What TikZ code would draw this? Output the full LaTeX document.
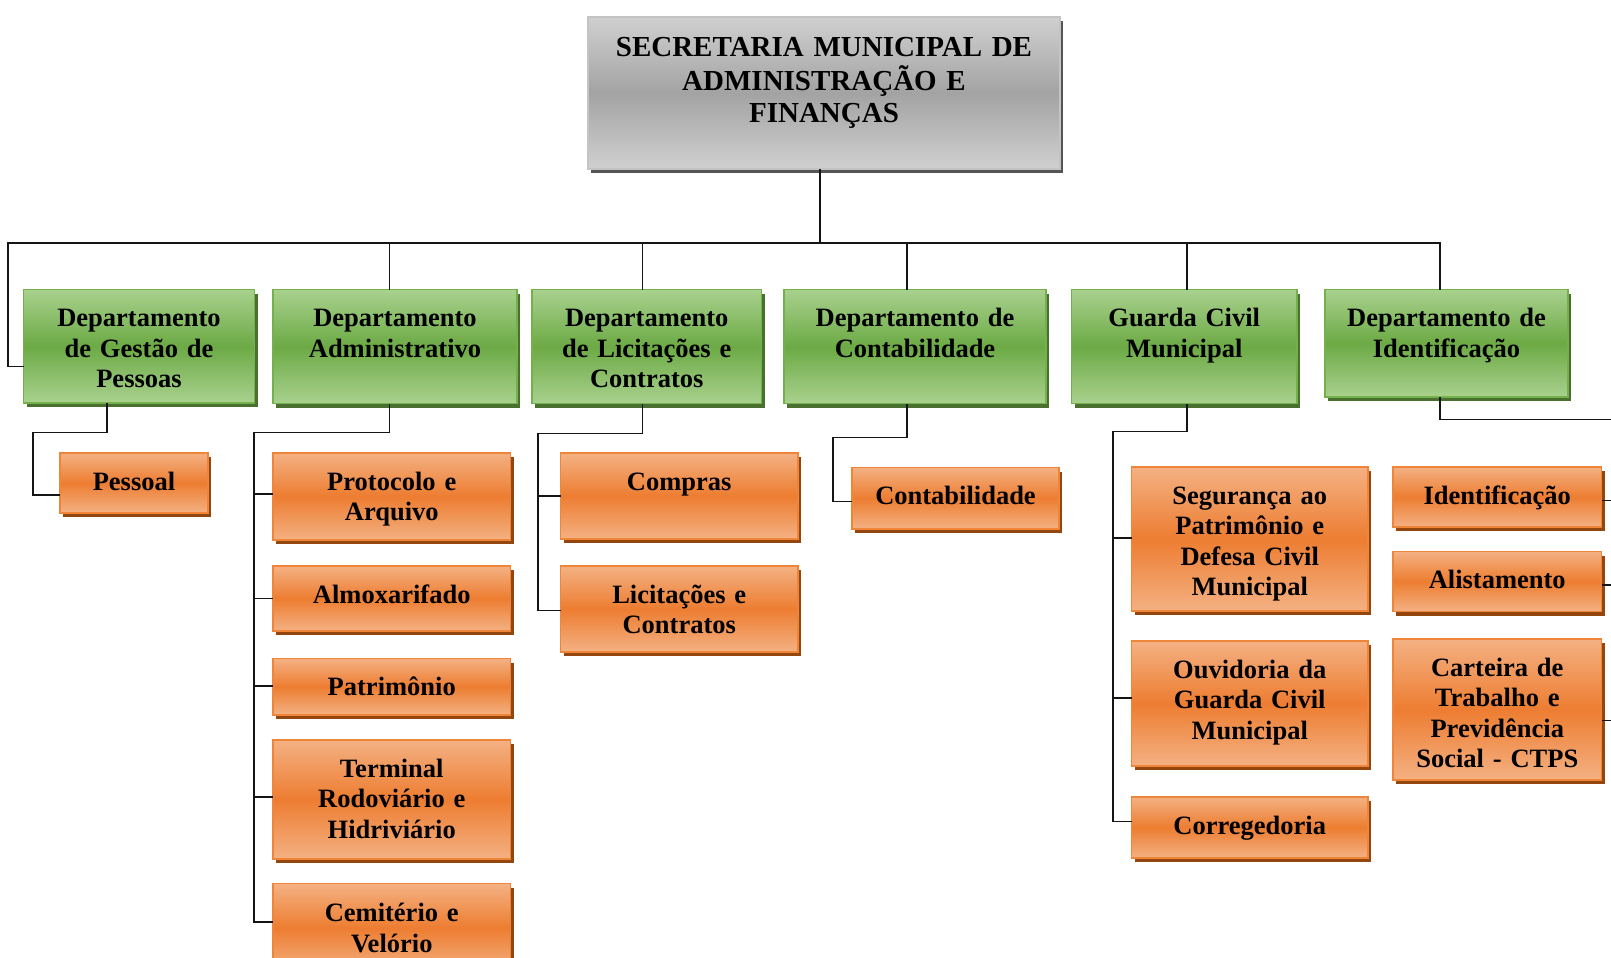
\documentclass[tikz,border=0pt]{standalone}
\usepackage{fontspec}
\setmainfont{Liberation Serif}
\usetikzlibrary{shadows}
\definecolor{gtop}{HTML}{A9D18E}
\definecolor{gmid}{HTML}{6CAA45}
\definecolor{gline}{HTML}{74B14C}
\definecolor{gshad}{HTML}{4A7030}
\definecolor{otop}{HTML}{F4B183}
\definecolor{omid}{HTML}{ED7D31}
\definecolor{oline}{HTML}{EF8539}
\definecolor{oshad}{HTML}{94460F}
\definecolor{ktop}{HTML}{D0D0D0}
\definecolor{kmid}{HTML}{A3A3A3}
\definecolor{kline}{HTML}{C4C4C4}
\definecolor{kshad}{HTML}{555555}
\definecolor{conn}{HTML}{151515}
\tikzset{
  base/.style={anchor=north west, inner sep=0pt, outer sep=0pt, align=center,
    line width=1.6pt, text height=37pt,
    font=\fontsize{26.5}{30.5}\selectfont\bfseries},
  gbox/.style={base, draw=gline, top color=gtop, bottom color=gtop, middle color=gmid,
    general shadow={fill=gshad, shadow xshift=3pt, shadow yshift=-4pt}},
  obox/.style={base, draw=oline, top color=otop, bottom color=otop, middle color=omid,
    general shadow={fill=oshad, shadow xshift=3pt, shadow yshift=-4pt}},
  tbox/.style={base, draw=kline, top color=ktop, bottom color=ktop, middle color=kmid,
    text height=40pt, font=\fontsize{29}{33}\selectfont\bfseries,
    general shadow={fill=kshad, shadow xshift=3pt, shadow yshift=-4pt}},
  wire/.style={draw=conn, line width=1.5pt},
}
\begin{document}
\begin{tikzpicture}[x=1pt,y=-1pt]
\useasboundingbox (0,0) rectangle (1611,958);
% top
\node[tbox, text width=472pt, text depth=112pt] (T) at (588,17)
  {SECRETARIA MUNICIPAL DE\\ADMINISTRAÇÃO E\\FINANÇAS};
% departments
\node[gbox, text width=231pt, text depth=76.5pt] (G1) at (23.5,289.5) {Departamento\\de Gestão de\\Pessoas};
\node[gbox, text width=244pt, text depth=77pt] (G2) at (273,289.5) {Departamento\\Administrativo};
\node[gbox, text width=229.5pt, text depth=77pt] (G3) at (532,289.5) {Departamento\\de Licitações e\\Contratos};
\node[gbox, text width=262pt, text depth=77pt] (G4) at (784,289.5) {Departamento de\\Contabilidade};
\node[gbox, text width=225.5pt, text depth=77pt] (G5) at (1071.5,289.5) {Guarda Civil\\Municipal};
\node[gbox, text width=243pt, text depth=70.5pt] (G6) at (1325,289.5) {Departamento de\\Identificação};
% children
\node[obox, text width=148pt, text depth=23pt] (P11) at (60,453) {Pessoal};
\node[obox, text width=237.5pt, text depth=50pt] (P21) at (273,453) {Protocolo e\\Arquivo};
\node[obox, text width=237.5pt, text depth=28pt] (P22) at (273,566) {Almoxarifado};
\node[obox, text width=237.5pt, text depth=19.5pt] (P23) at (273,658.5) {Patrimônio};
\node[obox, text width=237.5pt, text depth=82pt] (P24) at (273,740) {Terminal\\Rodoviário e\\Hidriviário};
\node[obox, text width=237.5pt, text depth=51pt, text height=38pt] (P25) at (273,883.5) {Cemitério e\\Velório};
\node[obox, text width=237.5pt, text depth=49pt] (P31) at (560.5,453) {Compras};
\node[obox, text width=237.5pt, text depth=49pt] (P32) at (560.5,566) {Licitações e\\Contratos};
\node[obox, text width=207pt, text depth=24.5pt] (P41) at (852,467.5) {Contabilidade};
\node[obox, text width=236.5pt, text depth=107pt] (P51) at (1131.5,467) {Segurança ao\\Patrimônio e\\Defesa Civil\\Municipal};
\node[obox, text width=236.5pt, text depth=88pt] (P52) at (1131.5,641) {Ouvidoria da\\Guarda Civil\\Municipal};
\node[obox, text width=236.5pt, text depth=24pt] (P53) at (1131.5,797) {Corregedoria};
\node[obox, text width=208.5pt, text depth=23pt] (P61) at (1393,467) {Identificação};
\node[obox, text width=208.5pt, text depth=23pt] (P62) at (1393,551.5) {Alistamento};
\node[obox, text width=208.5pt, text depth=104pt] (P63) at (1393,639) {Carteira de\\Trabalho e\\Previdência\\Social - CTPS};
% connector anchor points
\coordinate (busL) at (8,243);
\coordinate (c0) at ([xshift=-4pt]T.south);
\coordinate (c2) at ([xshift=-5.6pt]G2.north);
\coordinate (c3) at ([xshift=-4.5pt]G3.north);
\coordinate (c4) at ([xshift=-8pt]G4.north);
\coordinate (c5) at ([xshift=2.7pt]G5.north);
\coordinate (c6) at ([xshift=-6.5pt]G6.north);
\coordinate (busR) at (c6 |- busL);
\coordinate (d1) at ([xshift=-32pt]G1.south);
\coordinate (d2) at ([xshift=-5.6pt]G2.south);
\coordinate (d3) at ([xshift=-4.5pt]G3.south);
\coordinate (d4) at ([xshift=-8pt]G4.south);
\coordinate (d5) at ([xshift=2.7pt]G5.south);
\coordinate (d6) at ([xshift=-6.5pt]G6.south);
\coordinate (e1) at (33,432.5);
\coordinate (e2) at (254,432.5);
\coordinate (e3) at (538,433.5);
\coordinate (e4) at (833,437.7);
\coordinate (e5) at (1113,431.7);
\coordinate (e6) at (1625,419.3);
\coordinate (s11) at ([yshift=-12pt]P11.west);
\coordinate (s21) at ([yshift=2.5pt]P21.west);
\coordinate (s22) at (P22.west);
\coordinate (s23) at ([yshift=1pt]P23.west);
\coordinate (s24) at ([yshift=2.5pt]P24.west);
\coordinate (s25) at ([yshift=6pt]P25.west);
\coordinate (s31) at (P31.west);
\coordinate (s32) at ([yshift=-1.5pt]P32.west);
\coordinate (s41) at ([yshift=-3pt]P41.west);
\coordinate (s51) at ([yshift=1pt]P51.west);
\coordinate (s52) at ([yshift=5.5pt]P52.west);
\coordinate (s53) at ([yshift=6pt]P53.west);
\coordinate (s61) at ([yshift=-3.7pt]P61.east);
\coordinate (s62) at ([yshift=-3.5pt]P62.east);
\coordinate (s63) at ([yshift=-11pt]P63.east);
% top level
\draw[wire] (c0) -- (c0 |- busL);
\draw[wire] ([yshift=-20pt]G1.west) -| (busL) -- (busR) -- (c6);
\draw[wire] (c2 |- busL) -- (c2);
\draw[wire] (c3 |- busL) -- (c3);
\draw[wire] (c4 |- busL) -- (c4);
\draw[wire] (c5 |- busL) -- (c5);
% branch 1
\draw[wire] (d1) |- (e1) |- (s11);
% branch 2
\draw[wire] (d2) |- (e2) |- (s25);
\draw[wire] (e2 |- s21) -- (s21);
\draw[wire] (e2 |- s22) -- (s22);
\draw[wire] (e2 |- s23) -- (s23);
\draw[wire] (e2 |- s24) -- (s24);
% branch 3
\draw[wire] (d3) |- (e3) |- (s32);
\draw[wire] (e3 |- s31) -- (s31);
% branch 4
\draw[wire] (d4) |- (e4) |- (s41);
% branch 5
\draw[wire] (d5) |- (e5) |- (s53);
\draw[wire] (e5 |- s51) -- (s51);
\draw[wire] (e5 |- s52) -- (s52);
% branch 6
\draw[wire] (d6) |- (e6) |- (s63);
\draw[wire] (s61) -- (s61 -| e6);
\draw[wire] (s62) -- (s62 -| e6);
\end{tikzpicture}
\end{document}
